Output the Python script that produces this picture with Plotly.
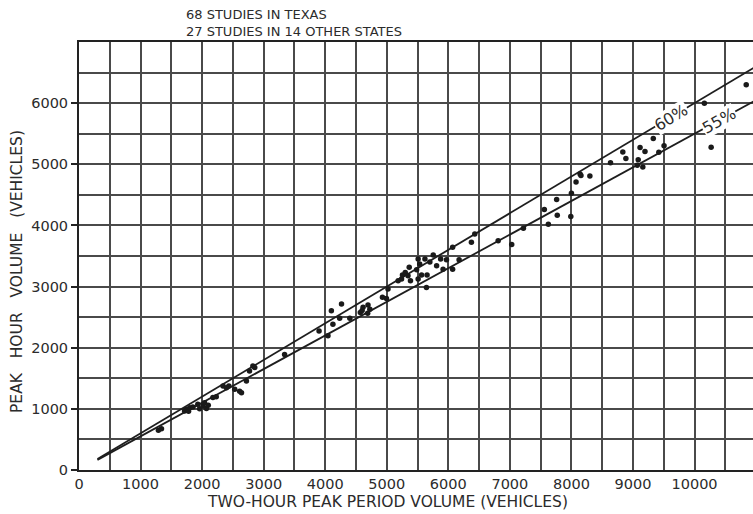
import plotly.graph_objects as go

# Two-hour peak period volume vs. peak hour volume, one point per study
two_hour_volume = [
    1290, 1340, 1715, 1745, 1780, 1800, 1850, 1930, 1960, 2015, 2040, 2070,
    2100, 2175, 2230, 2340, 2395, 2435, 2530, 2610, 2640, 2720, 2770, 2825,
    2855, 3340, 3900, 4045, 4100, 4125, 4235, 4265, 4400, 4570, 4600, 4615,
    4690, 4695, 4725, 4930, 4995, 5020, 5185, 5240, 5255, 5300, 5345, 5365,
    5385, 5485, 5510, 5510, 5535, 5565, 5620, 5645, 5655, 5700, 5755, 5810,
    5875, 5915, 5970, 6070, 6070, 6175, 6375, 6430, 6810, 7030, 7220, 7560,
    7625, 7760, 7770, 7990, 8000, 8075, 8140, 8155, 8300, 8635, 8835, 8885,
    9070, 9085, 9115, 9160, 9195, 9330, 9420, 9505, 10160, 10270, 10840,
]
peak_hour_volume = [
    650, 675, 965, 990, 960, 1020, 1030, 1075, 1000, 1045, 1100, 1005,
    1060, 1185, 1200, 1375, 1345, 1375, 1320, 1290, 1265, 1455, 1620, 1700,
    1675, 1890, 2275, 2195, 2605, 2385, 2480, 2715, 2480, 2575, 2610, 2660,
    2565, 2700, 2630, 2825, 2805, 2960, 3095, 3125, 3190, 3230, 3175, 3315,
    3095, 3275, 3125, 3450, 3370, 3190, 3450, 2985, 3190, 3400, 3515, 3340,
    3450, 3285, 3440, 3645, 3285, 3440, 3725, 3860, 3750, 3690, 3955, 4260,
    4020, 4425, 4165, 4145, 4525, 4710, 4840, 4815, 4810, 5025, 5200, 5095,
    4985, 5075, 5275, 4955, 5210, 5420, 5195, 5305, 6000, 5280, 6300,
]

# Reference ratios (peak hour as share of the two-hour period)
ratio_lines = [0.60, 0.55]
ratio_labels = ["60%", "55%"]
ratio_label_x = [9620, 10405]
ratio_label_angle = [-31, -29]
line_x = [300, 11200]

x_ticks = list(range(0, 11000, 1000))
x_tick_text = [str(v) for v in x_ticks]
y_ticks = list(range(0, 7000, 1000))
y_tick_text = [str(v) for v in y_ticks]

font_family = "DejaVu Sans"
ink = "#2b2b2b"
grid = "#4a4a4a"

W, H = 753, 514
M_L, M_R, M_T, M_B = 79, 0, 42, 44
plot_w = W - M_L - M_R
plot_h = H - M_T - M_B


def px_x(p):
    """Page pixel column -> paper x fraction."""
    return (p - M_L) / plot_w


def px_y(p):
    """Page pixel row -> paper y fraction."""
    return (H - M_B - p) / plot_h


fig = go.Figure()

for r in ratio_lines:
    fig.add_trace(go.Scatter(
        x=line_x, y=[r * v for v in line_x], mode="lines",
        line=dict(color="#1e1e1e", width=1.8), hoverinfo="skip",
        showlegend=False,
    ))

fig.add_trace(go.Scatter(
    x=two_hour_volume, y=peak_hour_volume, mode="markers",
    marker=dict(color="#1a1a1a", size=5.5, line=dict(width=0)),
    showlegend=False,
))

for r, lab, lx, ang in zip(ratio_lines, ratio_labels, ratio_label_x, ratio_label_angle):
    fig.add_annotation(
        x=lx, y=r * lx, text=lab, showarrow=False, textangle=ang,
        font=dict(family=font_family, size=16, color=ink),
        bgcolor="white", borderpad=0,
    )

# Study count note above the grid
fig.add_annotation(
    x=px_x(184), y=px_y(5), xref="paper", yref="paper",
    xanchor="left", yanchor="top",
    text="68 STUDIES IN TEXAS<br>27 STUDIES IN 14 OTHER STATES",
    align="left", showarrow=False,
    font=dict(family=font_family, size=13, color=ink),
)

# Axis titles
fig.add_annotation(
    x=px_x(387), y=px_y(502), xref="paper", yref="paper",
    xanchor="center", yanchor="middle",
    text="TWO-HOUR PEAK PERIOD VOLUME (VEHICLES)", showarrow=False,
    font=dict(family=font_family, size=15.5, color=ink),
)
fig.add_annotation(
    x=px_x(17), y=px_y(272), xref="paper", yref="paper", textangle=-90,
    xanchor="center", yanchor="middle",
    text="PEAK\u00a0\u00a0\u00a0HOUR\u00a0\u00a0\u00a0VOLUME\u00a0\u00a0\u00a0(VEHICLES)",
    showarrow=False,
    font=dict(family=font_family, size=15.5, color=ink),
)

fig.update_layout(
    width=W, height=H,
    margin=dict(l=M_L, r=M_R, t=M_T, b=M_B),
    paper_bgcolor="white", plot_bgcolor="white",
    font=dict(family=font_family, color=ink),
    xaxis=dict(
        range=[0, 10950], tickvals=x_ticks, ticktext=x_tick_text, ticks="",
        showgrid=True, gridcolor=grid, gridwidth=1.5,
        minor=dict(dtick=500, tick0=0, showgrid=True, gridcolor=grid, gridwidth=1.5),
        showline=True, linecolor="#222", linewidth=2, mirror=True,
        zeroline=False, tickfont=dict(size=14.5, color=ink),
    ),
    yaxis=dict(
        range=[0, 7000], tickvals=y_ticks, ticktext=y_tick_text,
        ticks="outside", ticklen=6, tickcolor="#222", tickwidth=1.5,
        showgrid=True, gridcolor=grid, gridwidth=1.5,
        minor=dict(dtick=500, tick0=0, showgrid=True, gridcolor=grid, gridwidth=1.5),
        showline=True, linecolor="#222", linewidth=2, mirror=False,
        zeroline=False, tickfont=dict(size=14.5, color=ink),
    ),
)

fig.write_html("out.html")
